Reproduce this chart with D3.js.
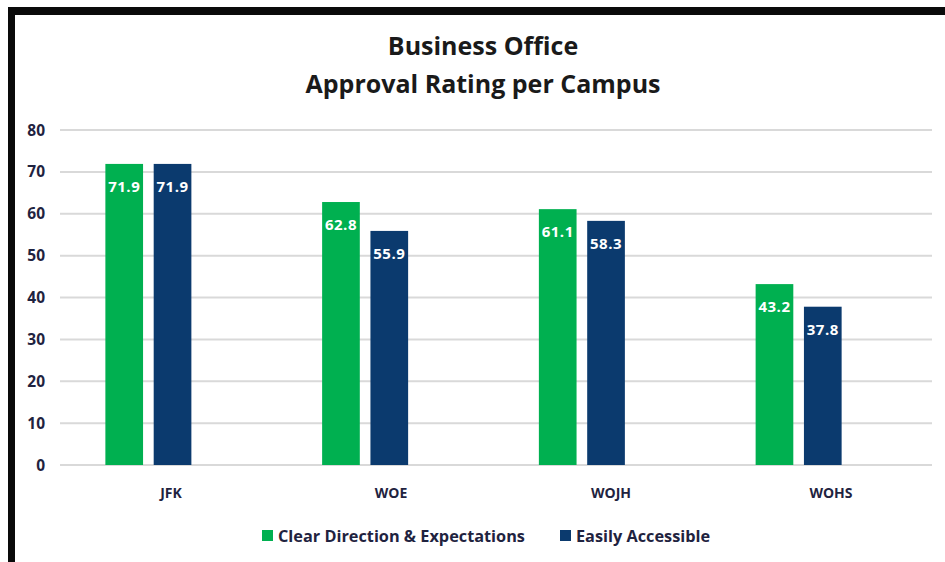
<!DOCTYPE html>
<html>
<head>
<meta charset="utf-8">
<script src="https://cdn.jsdelivr.net/npm/d3@7"></script>
<style>
    body { margin: 0; background: #fff; }
    text { font-family: "Open Sans", sans-serif; }
</style>
</head>
<body>
<div id="chart"></div>
<script>
// campuses and the two survey items
const campuses = ["JFK", "WOE", "WOJH", "WOHS"];
const seriesNames = ["Clear Direction & Expectations", "Easily Accessible"];
const clearDirection = [71.9, 62.8, 61.1, 43.2];
const easilyAccessible = [71.9, 55.9, 58.3, 37.8];
const yTicks = [0, 10, 20, 30, 40, 50, 60, 70, 80];
const colors = ["#00b050", "#0b3a6e"];

const width = 945, height = 562;

let svg = d3.select("#chart").append("svg")
    .attr("width", width).attr("height", height);

// black frame on top and left (scanned look)
svg.append("rect").attr("x", 8).attr("y", 7).attr("width", width - 8).attr("height", 8).attr("fill", "#0a0a0a");
svg.append("rect").attr("x", 8).attr("y", 7).attr("width", 7).attr("height", height - 7).attr("fill", "#0a0a0a");

let y = d3.scaleLinear().domain([0, 80]).range([465, 130]);
let x = d3.scaleBand().domain(campuses).range([40, 907]);
let xs = d3.scaleBand().domain([0, 1]).range([0, 86]).paddingInner(0.22);
// category labels sit a bit to the right of the bars, like the original
let xLabel = d3.scaleBand().domain(campuses).range([61, 941]);

// gridlines
svg.append("g").selectAll("line").data(yTicks).join("line")
    .attr("x1", 60).attr("x2", 932)
    .attr("y1", d => y(d)).attr("y2", d => y(d))
    .attr("stroke", "#d9d9d9").attr("stroke-width", 2);

// y tick labels
svg.append("g").selectAll("text").data(yTicks).join("text")
    .attr("x", 45).attr("y", d => y(d) + 5.5)
    .attr("text-anchor", "end").attr("font-size", "15.5px").attr("font-weight", "bold")
    .attr("fill", "#1f2340")
    .text(d => d);

// bars
let series = [clearDirection, easilyAccessible];
series.forEach((vals, si) => {
    let g = svg.append("g");
    g.selectAll("rect").data(vals).join("rect")
        .attr("x", (d, i) => x(campuses[i]) + x.bandwidth() / 2 - 43 + xs(si))
        .attr("width", xs.bandwidth())
        .attr("y", d => y(d))
        .attr("height", d => y(0) - y(d))
        .attr("fill", colors[si]);
    g.selectAll("text").data(vals).join("text")
        .attr("x", (d, i) => x(campuses[i]) + x.bandwidth() / 2 - 43 + xs(si) + xs.bandwidth() / 2)
        .attr("y", d => y(d) + 28)
        .attr("text-anchor", "middle").attr("font-size", "15px").attr("font-weight", "bold")
        .attr("letter-spacing", "0.5px")
        .attr("fill", "#fff")
        .text(d => d.toFixed(1));
});

// category labels
svg.append("g").selectAll("text").data(campuses).join("text")
    .attr("x", d => xLabel(d) + xLabel.bandwidth() / 2)
    .attr("y", 498)
    .attr("text-anchor", "middle").attr("font-size", "14px").attr("font-weight", "bold")
    .attr("fill", "#1f2340")
    .text(d => d);

// title
svg.append("text").attr("x", 483).attr("y", 55).attr("text-anchor", "middle")
    .attr("font-size", "25px").attr("font-weight", "bold").attr("fill", "#1a1a1a")
    .text("Business Office");
svg.append("text").attr("x", 483).attr("y", 93).attr("text-anchor", "middle")
    .attr("font-size", "25px").attr("font-weight", "bold").attr("fill", "#1a1a1a")
    .text("Approval Rating per Campus");

// legend
let legendX = [262, 560];
seriesNames.forEach((name, i) => {
    svg.append("rect").attr("x", legendX[i]).attr("y", 530).attr("width", 11).attr("height", 11)
        .attr("fill", colors[i]);
    svg.append("text").attr("x", legendX[i] + 16).attr("y", 541.5)
        .attr("font-size", "16.3px").attr("font-weight", "bold").attr("fill", "#1f2340")
        .text(name);
});
</script>
</body>
</html>
